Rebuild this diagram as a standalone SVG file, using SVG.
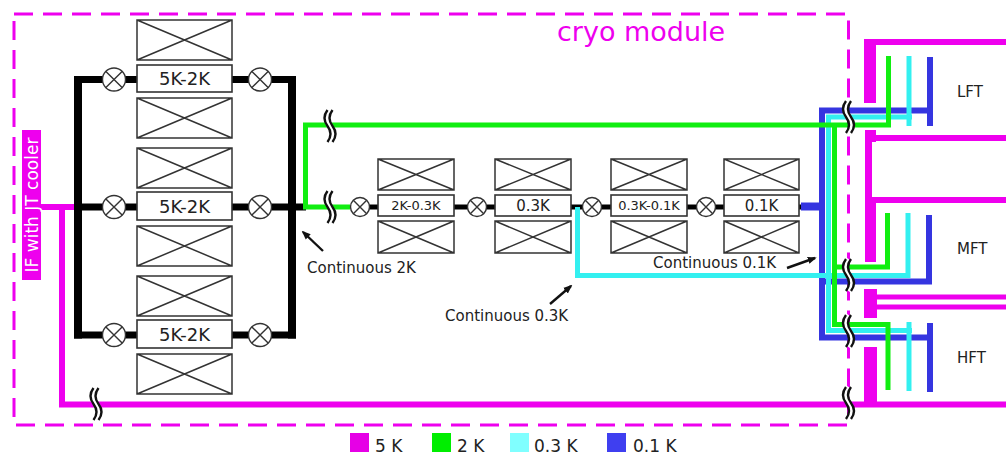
<svg xmlns="http://www.w3.org/2000/svg" xmlns:xlink="http://www.w3.org/1999/xlink" width="1006" height="454" viewBox="0 0 1006 454">
<style>
  .t{font-family:"DejaVu Sans","Liberation Sans",sans-serif;fill:#222}
  .xb{fill:#fff;stroke:#333;stroke-width:1.5}
  .bx{fill:#fff;stroke:#333;stroke-width:1.6}
  .vl{fill:#fff;stroke:#333;stroke-width:1.4}
  .blk{fill:none;stroke:#000}
  .mg{fill:none;stroke:#ee00ee;stroke-width:6}
  .gr{fill:none;stroke:#11ee11;stroke-width:5}
  .cy{fill:none;stroke:#33f0f0;stroke-width:5}
  .bl{fill:none;stroke:#3535e0;stroke-width:6}
  .arr{fill:none;stroke:#111;stroke-width:2.4;marker-end:url(#ah)}
</style>
<defs>
  <marker id="ah" viewBox="0 0 10 10" refX="8" refY="5" markerWidth="9" markerHeight="9" markerUnits="userSpaceOnUse" orient="auto">
    <path d="M0,1 L10,5 L0,9 z" fill="#111"/>
  </marker>
  <g id="brk">
    <path d="M2.5,-16 q-6,8 0,16 t0,16" fill="none" stroke="#fff" stroke-width="6"/>
    <path d="M0,-16 q-6,8 0,16 t0,16" fill="none" stroke="#111" stroke-width="2.4"/>
    <path d="M5,-16 q-6,8 0,16 t0,16" fill="none" stroke="#111" stroke-width="2.4"/>
  </g>
  <g id="vL"><circle r="11.5" class="vl"/><path d="M-8.1,-8.1 L8.1,8.1 M8.1,-8.1 L-8.1,8.1" class="vl"/></g>
  <g id="vS"><circle r="9.5" class="vl"/><path d="M-6.7,-6.7 L6.7,6.7 M6.7,-6.7 L-6.7,6.7" class="vl"/></g>
</defs>

<rect width="1006" height="454" fill="#fff"/>

<!-- cryo module boundary -->
<g id="cryo-module">
  <rect x="14" y="14" width="834.5" height="411" fill="none" stroke="#ee00ee" stroke-width="3" stroke-dasharray="19 10"/>
  <text x="557" y="41" font-family="DejaVu Sans, Liberation Sans, sans-serif" font-size="27" fill="#ee00ee">cryo module</text>
</g>

<!-- connectors -->
<g id="connectors">
  <!-- 5 K -->
  <path class="mg" d="M41,207 H78"/>
  <path class="mg" d="M62,207 V404.5 H1006"/>
  <!-- telescope 5K structures -->
  <rect x="864" y="39" width="12" height="64" fill="#ee00ee"/>
  <path class="mg" d="M866,42 H1006"/>
  <rect x="865" y="130" width="11" height="12" fill="#ee00ee"/>
  <rect x="865" y="130" width="7" height="132" fill="#ee00ee"/>
  <rect x="865" y="200" width="11" height="62" fill="#ee00ee"/>
  <path class="mg" d="M868,138 H1006 M868,200 H1006"/>
  <rect x="864" y="289" width="13" height="29" fill="#ee00ee"/>
  <path class="mg" style="stroke-width:5" d="M870,297 H1006 M870,307 H1006"/>
  <rect x="864" y="347" width="13" height="57" fill="#ee00ee"/>

  <!-- black 5K-2K buses -->
  <path class="blk" stroke-width="7" d="M74,79.5 H296 M74,207 H306 M74,335 H296"/>
  <path class="blk" stroke-width="8" d="M78,76 V338.5 M292,76 V338.5"/>
  <!-- second stage black line -->
  <path class="blk" stroke-width="5" d="M355,207 H803"/>

  <!-- blue 0.1 K -->
  <path class="bl" style="stroke-width:8" d="M801,206.5 H822"/>
  <path class="bl" d="M930,57 V126"/>
  <path class="bl" d="M933,110.5 H822 V337.5 H933"/>
  <path class="bl" d="M822,281.5 H929 V215"/>
  <path class="bl" d="M930,323 V392"/>

  <!-- cyan 0.3 K -->
  <path class="cy" d="M909,56 V126"/>
  <path class="cy" d="M912,117 H828.5 V330.5 H912"/>
  <path class="cy" d="M909,322 V391"/>
  <path class="cy" d="M577.5,207 V275.5 H908 V213"/>

  <!-- green 2 K -->
  <path class="gr" d="M350,207 H305.5 V125 H888.5 V56"/>
  <path class="gr" d="M834.5,125 V324.5 H888 V390"/>
  <path class="gr" d="M834.5,267 H887.5 V213"/>

  <!-- breaks -->
  <use xlink:href="#brk" href="#brk" transform="translate(327.5,126)"/>
  <use xlink:href="#brk" href="#brk" transform="translate(327.5,207)"/>
  <use xlink:href="#brk" href="#brk" transform="translate(93.5,404)"/>
  <use xlink:href="#brk" href="#brk" transform="translate(846,117)"/>
  <use xlink:href="#brk" href="#brk" transform="translate(846,275)"/>
  <use xlink:href="#brk" href="#brk" transform="translate(846,331)"/>
  <use xlink:href="#brk" href="#brk" transform="translate(846,403)"/>

  <!-- annotation arrows -->
  <path class="arr" d="M323,251 L303,232"/>
  <path class="arr" d="M550,304 L571,286"/>
  <path class="arr" d="M787,268 L815,258"/>
</g>

<!-- IF -->
<g id="if-jt-cooler">
  <rect x="22" y="130" width="19" height="150" fill="#ee00ee"/>
  <text transform="translate(38,205) rotate(-90)" text-anchor="middle" font-family="DejaVu Sans, Liberation Sans, sans-serif" font-size="17" fill="#fff">IF with JT cooler</text>
</g>

<!-- 5K-2K stages -->
<g id="stage-5k-2k-top">
  <path class="xb" d="M137,20 h95 v40 h-95 z M137,20 L232,60 M232,20 L137,60"/>
  <rect class="bx" x="137" y="65" width="95" height="27"/>
  <text class="t" x="184.5" y="85" font-size="18" text-anchor="middle">5K-2K</text>
  <path class="xb" d="M137,98 h95 v40 h-95 z M137,98 L232,138 M232,98 L137,138"/>
  <use href="#vL" xlink:href="#vL" transform="translate(114,79.5)"/>
  <use href="#vL" xlink:href="#vL" transform="translate(260,79.5)"/>
</g>
<g id="stage-5k-2k-mid">
  <path class="xb" d="M137,148 h95 v40 h-95 z M137,148 L232,188 M232,148 L137,188"/>
  <rect class="bx" x="137" y="192" width="95" height="28"/>
  <text class="t" x="184.5" y="212.5" font-size="18" text-anchor="middle">5K-2K</text>
  <path class="xb" d="M137,226 h95 v40 h-95 z M137,226 L232,266 M232,226 L137,266"/>
  <use href="#vL" xlink:href="#vL" transform="translate(114,207)"/>
  <use href="#vL" xlink:href="#vL" transform="translate(260,207)"/>
</g>
<g id="stage-5k-2k-bot">
  <path class="xb" d="M137,276 h95 v40 h-95 z M137,276 L232,316 M232,276 L137,316"/>
  <rect class="bx" x="137" y="320" width="95" height="28"/>
  <text class="t" x="184.5" y="340.5" font-size="18" text-anchor="middle">5K-2K</text>
  <path class="xb" d="M137,354 h95 v40 h-95 z M137,354 L232,394 M232,354 L137,394"/>
  <use href="#vL" xlink:href="#vL" transform="translate(114,335)"/>
  <use href="#vL" xlink:href="#vL" transform="translate(260,335)"/>
</g>

<!-- second chain -->
<g id="stage-2k-03k">
  <use href="#vS" xlink:href="#vS" transform="translate(360,207)"/>
  <path class="xb" d="M378,159 h76 v31 h-76 z M378,159 L454,190 M454,159 L378,190"/>
  <rect class="bx" x="378" y="195" width="76" height="21"/>
  <text class="t" x="416" y="210" font-size="13" text-anchor="middle">2K-0.3K</text>
  <path class="xb" d="M378,221 h76 v32 h-76 z M378,221 L454,253 M454,221 L378,253"/>
</g>
<g id="stage-03k">
  <use href="#vS" xlink:href="#vS" transform="translate(477,207)"/>
  <path class="xb" d="M495,159 h76 v31 h-76 z M495,159 L571,190 M571,159 L495,190"/>
  <rect class="bx" x="495" y="195" width="76" height="21"/>
  <text class="t" x="533" y="211" font-size="15" text-anchor="middle">0.3K</text>
  <path class="xb" d="M495,221 h76 v32 h-76 z M495,221 L571,253 M571,221 L495,253"/>
</g>
<g id="stage-03k-01k">
  <use href="#vS" xlink:href="#vS" transform="translate(592,207)"/>
  <path class="xb" d="M611,159 h76 v31 h-76 z M611,159 L687,190 M687,159 L611,190"/>
  <rect class="bx" x="611" y="195" width="76" height="21"/>
  <text class="t" x="649" y="210" font-size="13" text-anchor="middle">0.3K-0.1K</text>
  <path class="xb" d="M611,221 h76 v32 h-76 z M611,221 L687,253 M687,221 L611,253"/>
</g>
<g id="stage-01k">
  <use href="#vS" xlink:href="#vS" transform="translate(706,207)"/>
  <path class="xb" d="M724,159 h75 v31 h-75 z M724,159 L799,190 M799,159 L724,190"/>
  <rect class="bx" x="724" y="195" width="75" height="21"/>
  <text class="t" x="761.5" y="211" font-size="15" text-anchor="middle">0.1K</text>
  <path class="xb" d="M724,221 h75 v32 h-75 z M724,221 L799,253 M799,221 L724,253"/>
</g>

<!-- annotations -->
<g id="labels">
  <text class="t" x="307" y="273" font-size="15">Continuous 2K</text>
  <text class="t" x="445" y="321" font-size="15">Continuous 0.3K</text>
  <text class="t" x="653" y="268" font-size="15">Continuous 0.1K</text>
</g>

<!-- telescopes -->
<g id="lft"><text class="t" x="957" y="97" font-size="15">LFT</text></g>
<g id="mft"><text class="t" x="957" y="254" font-size="15">MFT</text></g>
<g id="hft"><text class="t" x="957" y="363" font-size="15">HFT</text></g>

<!-- legend -->
<g id="legend">
  <rect x="350" y="433" width="19" height="19" fill="#e600e6"/>
  <text class="t" x="375" y="452" font-size="17">5 K</text>
  <rect x="432" y="433" width="19" height="19" fill="#00ee00"/>
  <text class="t" x="457" y="452" font-size="17">2 K</text>
  <rect x="510" y="433" width="19" height="19" fill="#80ffff"/>
  <text class="t" x="534" y="452" font-size="17">0.3 K</text>
  <rect x="607" y="433" width="19" height="19" fill="#3f3ff0"/>
  <text class="t" x="633" y="452" font-size="17">0.1 K</text>
</g>
</svg>
